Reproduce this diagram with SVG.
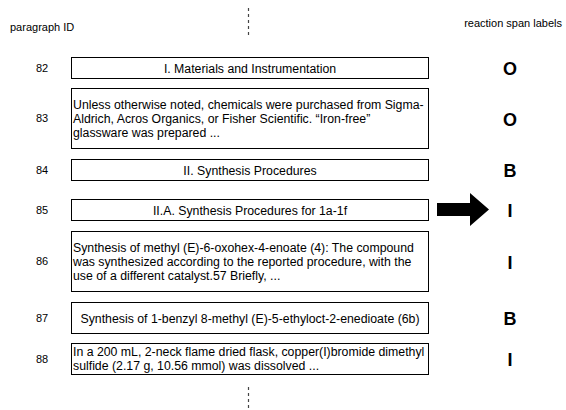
<svg xmlns="http://www.w3.org/2000/svg" width="566" height="410" viewBox="0 0 566 410">
<style>
text{font-family:"Liberation Sans",Arial,sans-serif;fill:#000}
.hdr{font-size:11px}
.id{font-size:11px;text-anchor:middle}
.box{fill:#fff;stroke:#000;stroke-width:1}
.t{font-size:12.3px}
.tc{font-size:12.3px;text-anchor:middle}
.lab{font-size:18px;font-weight:bold;text-anchor:middle}
.dash{stroke:#444;stroke-width:1.2;stroke-dasharray:3 3;fill:none}
</style>
<rect width="566" height="410" fill="#fff"/>
<text class="hdr" x="10" y="31">paragraph ID</text>
<text class="hdr" x="562" y="27" text-anchor="end">reaction span labels</text>
<g id="connectors">
<line class="dash" x1="248.5" y1="8" x2="248.5" y2="37"/>
<line class="dash" x1="248.5" y1="387" x2="248.5" y2="409"/>
<polygon points="437,203 470,203 470,193 489,209.5 470,226 470,216 437,216" fill="#000"/>
</g>
<g id="p82">
<text class="id" x="42" y="71.5">82</text>
<rect class="box" x="71.5" y="57.5" width="357" height="21"/>
<text class="tc" x="250" y="72.5">I. Materials and Instrumentation</text>
<text class="lab" x="510" y="75">O</text>
</g>
<g id="p83">
<text class="id" x="42" y="122">83</text>
<rect class="box" x="71.5" y="88.5" width="357" height="60"/>
<text class="t" x="73" y="109">Unless otherwise noted, chemicals were purchased from Sigma-</text>
<text class="t" x="73" y="123">Aldrich, Acros Organics, or Fisher Scientific. “Iron-free”</text>
<text class="t" x="73" y="137">glassware was prepared ...</text>
<text class="lab" x="510" y="126">O</text>
</g>
<g id="p84">
<text class="id" x="42" y="173.5">84</text>
<rect class="box" x="71.5" y="159.5" width="357" height="21"/>
<text class="tc" x="250" y="174.5">II. Synthesis Procedures</text>
<text class="lab" x="510" y="177">B</text>
</g>
<g id="p85">
<text class="id" x="42" y="213.5">85</text>
<rect class="box" x="71.5" y="199.5" width="357" height="21"/>
<text class="tc" x="250" y="214.5">II.A. Synthesis Procedures for 1a-1f</text>
<text class="lab" x="510" y="217">I</text>
</g>
<g id="p86">
<text class="id" x="42" y="265">86</text>
<rect class="box" x="71.5" y="231.5" width="357" height="60"/>
<text class="t" x="73" y="252">Synthesis of methyl (E)-6-oxohex-4-enoate (4): The compound</text>
<text class="t" x="73" y="266">was synthesized according to the reported procedure, with the</text>
<text class="t" x="73" y="280">use of a different catalyst.57 Briefly, ...</text>
<text class="lab" x="510" y="269">I</text>
</g>
<g id="p87">
<text class="id" x="42" y="321.5">87</text>
<rect class="box" x="71.5" y="302.5" width="357" height="31"/>
<text class="tc" x="250" y="322.5">Synthesis of 1-benzyl 8-methyl (E)-5-ethyloct-2-enedioate (6b)</text>
<text class="lab" x="510" y="325">B</text>
</g>
<g id="p88">
<text class="id" x="42" y="363">88</text>
<rect class="box" x="71.5" y="343.5" width="357" height="31"/>
<text class="t" x="73" y="356">In a 200 mL, 2-neck flame dried flask, copper(I)bromide dimethyl</text>
<text class="t" x="73" y="370">sulfide (2.17 g, 10.56 mmol) was dissolved ...</text>
<text class="lab" x="510" y="366">I</text>
</g>
</svg>
